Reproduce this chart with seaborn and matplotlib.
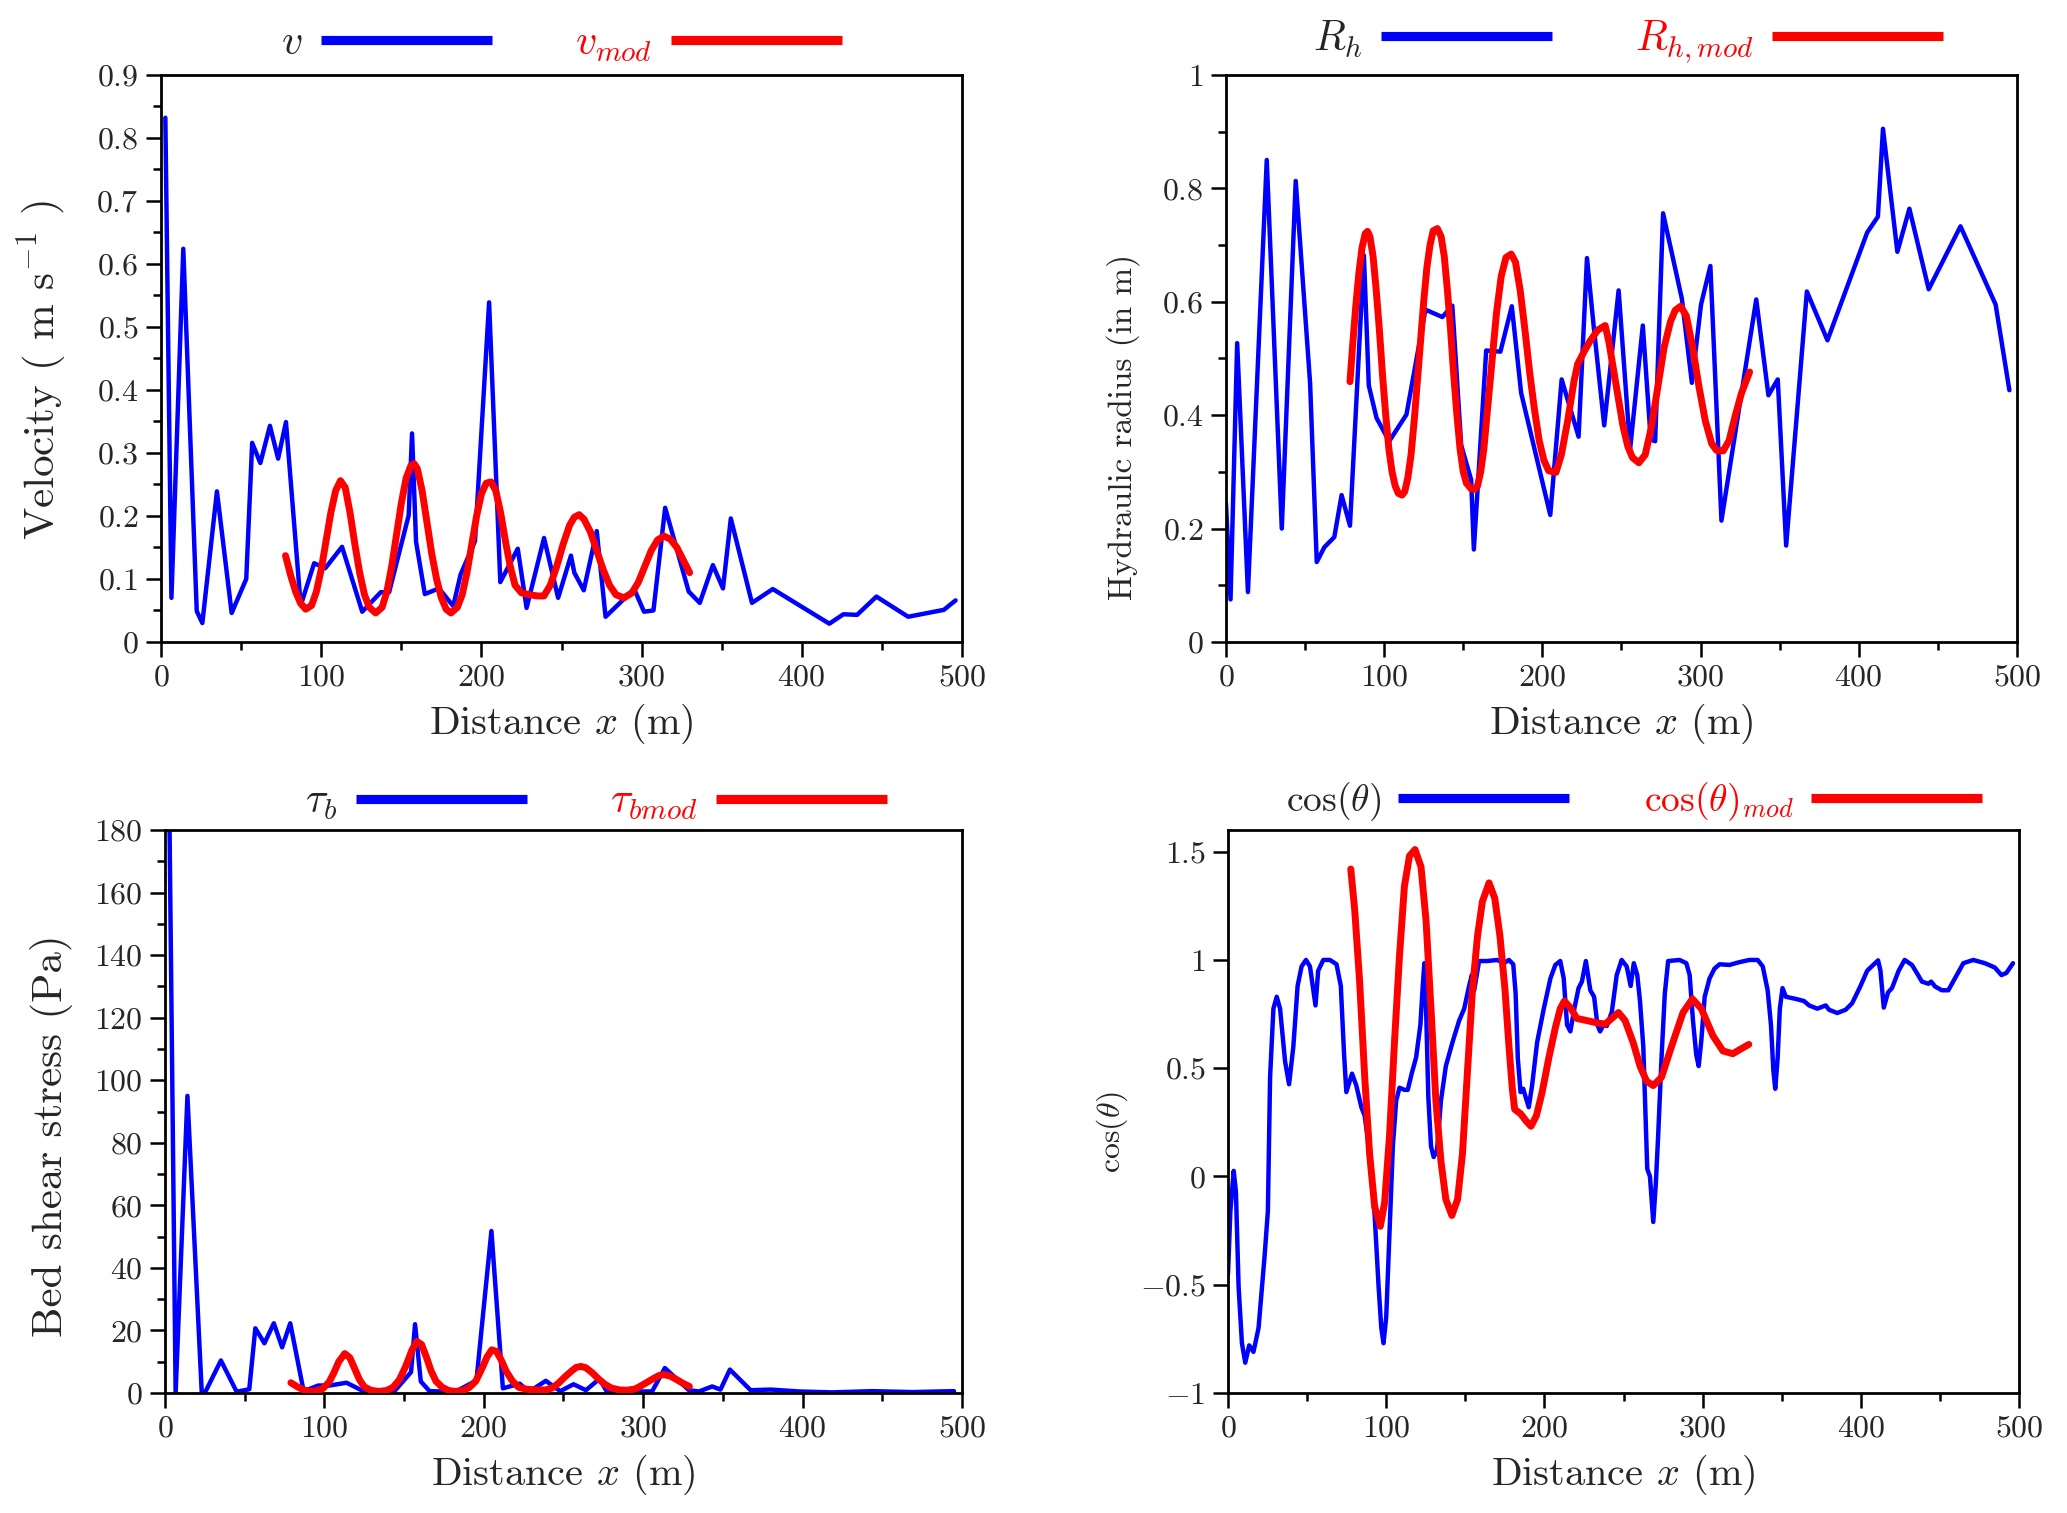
import numpy as np
import pandas as pd
import matplotlib
matplotlib.use("Agg")
import matplotlib.pyplot as plt
import matplotlib.ticker as mticker
from matplotlib.lines import Line2D
import seaborn as sns

# ---- panel (a): velocity ----
v_x = [2.7, 6.5, 13.9, 22.3, 25.8, 34.9, 44.1, 53.2, 56.9, 62, 68, 73.1, 78, 87.2, 95.6, 102.5,
       113, 125.6, 137.2, 142.4, 154.6, 156.7, 159.2, 164.7, 173.5, 182.4, 187, 196, 204.8, 211.8,
       222.7, 228.2, 239.1, 247.9, 255.9, 258, 263.9, 272, 277.5, 295.4, 301.5, 307.4, 314.7, 329.4,
       336.3, 344.5, 350.8, 355.7, 368.9, 381.9, 417.2, 426, 434.5, 446.6, 466.4, 488.7, 496]
v_y = [0.832, 0.07, 0.624, 0.049, 0.030, 0.239, 0.046, 0.10, 0.316, 0.284, 0.343, 0.291, 0.349,
       0.058, 0.125, 0.117, 0.151, 0.048, 0.079, 0.079, 0.201, 0.331, 0.159, 0.076, 0.085, 0.057,
       0.107, 0.160, 0.539, 0.095, 0.148, 0.054, 0.165, 0.070, 0.137, 0.110, 0.082, 0.176, 0.040,
       0.084, 0.048, 0.050, 0.213, 0.080, 0.062, 0.122, 0.085, 0.196, 0.062, 0.084, 0.029, 0.044,
       0.043, 0.072, 0.040, 0.051, 0.066]

vmod_x = [77.7, 81, 84, 87, 90.3, 94, 97, 100, 103, 106, 109, 112, 115, 118, 121, 124, 127, 130,
          134, 138, 141, 144, 147, 150, 153, 156, 158, 160, 163, 166, 169, 172, 175, 178, 181, 185,
          188, 191, 194, 197, 200, 203, 206, 209, 212, 215, 218, 221, 225, 230, 235, 239, 243, 247,
          251, 255, 258, 261, 264, 268, 272, 276, 280, 284, 289, 294, 298, 302, 306, 310, 314, 318,
          322, 326, 330]
vmod_y = [0.137, 0.105, 0.08, 0.062, 0.052, 0.058, 0.08, 0.115, 0.16, 0.205, 0.24, 0.256, 0.245,
          0.205, 0.155, 0.11, 0.075, 0.055, 0.046, 0.055, 0.08, 0.12, 0.17, 0.22, 0.26, 0.28, 0.283,
          0.275, 0.24, 0.19, 0.14, 0.10, 0.07, 0.052, 0.046, 0.055, 0.075, 0.11, 0.155, 0.20, 0.235,
          0.252, 0.254, 0.24, 0.205, 0.16, 0.12, 0.09, 0.078, 0.075, 0.073, 0.073, 0.09, 0.12, 0.155,
          0.185, 0.198, 0.202, 0.195, 0.175, 0.145, 0.115, 0.09, 0.075, 0.07, 0.078, 0.095, 0.12,
          0.145, 0.162, 0.168, 0.163, 0.15, 0.13, 0.11]

# ---- panel (b): hydraulic radius ----
rh_x = [0, 2.9, 7.1, 13.9, 25.8, 35.3, 44.1, 53.2, 57.4, 62.2, 68.5, 73.1, 78.4, 87.2, 90.3, 95.2,
        103.2, 114.1, 126.1, 136.8, 143.1, 148.7, 155, 156.7, 164.5, 173.5, 180.7, 186.6, 205,
        212.2, 222.9, 228.2, 232.4, 239.1, 248.2, 255.5, 263.5, 268.5, 271.3, 276.3, 288.2, 294.5,
        300.3, 306.2, 313.2, 335.2, 342.9, 348.8, 354.1, 367.2, 380.2, 405.3, 412.1, 415.3, 424.4,
        432, 444.2, 464.3, 486.5, 495.2]
rh_y = [0.245, 0.075, 0.527, 0.088, 0.850, 0.20, 0.813, 0.456, 0.141, 0.167, 0.185, 0.259, 0.205,
        0.682, 0.452, 0.395, 0.354, 0.401, 0.586, 0.573, 0.593, 0.347, 0.286, 0.163, 0.514, 0.512,
        0.592, 0.439, 0.224, 0.463, 0.362, 0.677, 0.558, 0.382, 0.620, 0.341, 0.558, 0.357, 0.354,
        0.756, 0.605, 0.457, 0.595, 0.663, 0.214, 0.604, 0.435, 0.463, 0.170, 0.618, 0.532, 0.722,
        0.750, 0.905, 0.688, 0.764, 0.622, 0.733, 0.595, 0.444]

rhmod_x = [78.4, 80, 82, 84, 86, 88, 89.5, 91, 93, 95, 97, 99, 101, 103, 105, 107, 109, 111.3, 113,
           115, 117, 119, 121, 123, 125, 127, 129, 131, 133.6, 136, 138, 140, 142, 144, 146, 148,
           150, 152, 155, 157, 159, 161, 163, 165, 167, 169, 171, 174, 177, 180.3, 183, 186, 189,
           192, 195, 198, 201, 204, 208.6, 212, 216, 220, 222.3, 226, 230, 235, 239.7, 242, 245,
           248, 251, 254, 257, 261, 265, 269, 273, 277, 281, 284, 287.4, 291, 295, 299, 303, 307,
           310, 314.3, 318, 322, 326, 331]
rhmod_y = [0.459, 0.52, 0.59, 0.65, 0.695, 0.72, 0.724, 0.715, 0.68, 0.62, 0.55, 0.47, 0.40, 0.34,
           0.30, 0.275, 0.262, 0.259, 0.265, 0.29, 0.33, 0.39, 0.46, 0.53, 0.60, 0.66, 0.70, 0.725,
           0.729, 0.715, 0.68, 0.62, 0.55, 0.47, 0.40, 0.34, 0.30, 0.28, 0.27, 0.269, 0.275, 0.30,
           0.34, 0.40, 0.46, 0.52, 0.58, 0.645, 0.678, 0.684, 0.67, 0.62, 0.55, 0.475, 0.41, 0.355,
           0.32, 0.302, 0.299, 0.33, 0.39, 0.46, 0.49, 0.51, 0.53, 0.55, 0.558, 0.53, 0.48, 0.43,
           0.38, 0.345, 0.325, 0.316, 0.33, 0.38, 0.45, 0.52, 0.565, 0.585, 0.592, 0.575, 0.52, 0.45,
           0.39, 0.35, 0.338, 0.337, 0.355, 0.40, 0.44, 0.476]

# ---- panel (c): bed shear stress ----
tau_x = [2.9, 6.7, 14.1, 23.1, 25, 35.1, 45, 52.9, 56.7, 62.4, 68.3, 73.5, 78.6, 87, 96.2, 103.4,
         113.9, 124.4, 144.5, 154.4, 156.9, 160.5, 166, 182.1, 195.4, 204.8, 212, 222.5, 228.4,
         238.9, 248, 256.3, 264.1, 272.5, 277.3, 299.4, 305.6, 313.6, 328.7, 335, 343.3, 348.5,
         354.4, 367.4, 380, 397.7, 418.6, 443.7, 468.8, 495]
tau_y = [180, 0, 95, 0, 0, 10.4, 0.4, 1.2, 20.7, 15.9, 22.3, 14.6, 22.3, 0.6, 2.4, 2.4, 3.3, 0.6,
         0.9, 6.7, 22, 3.7, 0.6, 0.4, 4, 51.8, 1.5, 3, 0.4, 3.9, 0.6, 2.8, 0.9, 4.5, 0.4, 0.5, 0.5,
         8.0, 0.9, 0.5, 2.1, 1.1, 7.5, 0.9, 1.1, 0.5, 0.2, 0.6, 0.3, 0.6]

taumod_x = [79, 83, 87, 91, 95, 99, 103, 106, 109, 112.8, 116, 119, 122, 125, 129, 134, 139, 143,
            147, 151, 155, 158, 161, 164, 167, 170, 174, 178, 182, 187, 191, 195, 199, 202, 205,
            208, 211, 214, 218, 222, 227, 233, 239, 243, 247, 251, 255, 258, 261, 264, 268, 272,
            276, 280, 285, 290, 295, 299, 303, 307, 310, 313, 317, 321, 325, 329]
taumod_y = [3.3, 2.0, 1.0, 0.5, 0.7, 1.4, 3.5, 6.5, 10, 12.6, 11.3, 7.8, 4.3, 2.0, 0.9, 0.5, 0.8,
            1.8, 4.2, 8.5, 13.8, 16.5, 15.5, 11.5, 7.0, 3.8, 1.8, 0.8, 0.5, 0.8, 1.8, 3.8, 8.0, 11.5,
            13.8, 13.3, 10.5, 7.0, 3.8, 1.8, 1.2, 1.0, 1.0, 1.6, 3.2, 5.2, 7.0, 8.2, 8.5, 8.1, 6.5,
            4.5, 2.8, 1.6, 1.0, 0.9, 1.3, 2.4, 3.6, 4.8, 5.6, 5.9, 5.4, 4.3, 3.1, 2.1]

# ---- panel (d): cos(theta) ----
cos_x = [0, 1.5, 3.6, 5, 6.7, 8.8, 10.9, 13.4, 16.1, 19.3, 23.1, 25.2, 26.6, 28.7, 30.8, 32.9, 36.1,
         38.6, 41.3, 44, 46.5, 49.3, 51.8, 53.9, 55.3, 57, 60.2, 64.4, 68.6, 71.3, 73.4, 74.8, 78.4,
         81.1, 84.3, 86.4, 89.5, 92.7, 95.2, 96.9, 98.3, 100, 102.1, 104.2, 106.3, 108.4, 111.5,
         113.6, 116.1, 118.9, 121.6, 123.1, 124.1, 125.2, 126.6, 128.3, 130, 132.1, 134.6, 137.7,
         141.9, 146.1, 149.3, 152.4, 154.1, 155.6, 158.7, 164, 170.2, 174.4, 177.6, 180.3, 181.8,
         183.2, 184.9, 186.6, 188, 190.1, 192.2, 195.4, 199.6, 203.8, 206.9, 210, 212.2, 214.3,
         216.4, 218.9, 221.6, 223.7, 226.2, 229, 231.4, 233.5, 235.2, 237.3, 239.4, 242.6, 245.7,
         248.8, 252, 254.5, 256.5, 258.7, 260.4, 262.5, 265, 266.7, 268.8, 270.4, 271.9, 274,
         276.1, 278.2, 285.5, 289.7, 291.8, 293.9, 296, 297.5, 299.2, 301.3, 304.4, 307.5, 310.7,
         317, 323.3, 329.6, 334.8, 338, 341.1, 343.2, 344.7, 345.9, 347.4, 348.8, 350.5, 352.6,
         358.9, 364.1, 367.3, 372.5, 377.8, 379.9, 385.1, 390.4, 394.5, 399.8, 404, 406.1, 410.9,
         412.4, 414.5, 417.2, 419.7, 423.9, 427.7, 432.3, 435.4, 438.6, 442.8, 444.4, 447, 451.2,
         455.3, 459.5, 464.8, 471.1, 478.4, 484.7, 488.9, 492, 496.2]
cos_y = [-0.45, -0.16, 0.026, -0.07, -0.51, -0.77, -0.86, -0.78, -0.81, -0.70, -0.37, -0.16, 0.46,
         0.775, 0.83, 0.775, 0.53, 0.426, 0.60, 0.88, 0.97, 1.0, 0.97, 0.86, 0.79, 0.95, 1.0, 1.0,
         0.98, 0.88, 0.56, 0.39, 0.475, 0.42, 0.32, 0.28, 0.11, -0.18, -0.51, -0.70, -0.77, -0.65,
         -0.25, 0.14, 0.35, 0.41, 0.40, 0.40, 0.475, 0.55, 0.70, 0.88, 0.985, 0.775, 0.37, 0.14,
         0.09, 0.12, 0.35, 0.51, 0.62, 0.72, 0.775, 0.88, 0.93, 0.86, 0.995, 0.995, 1.0, 0.985, 1.0,
         0.98, 0.845, 0.545, 0.39, 0.405, 0.37, 0.32, 0.42, 0.62, 0.775, 0.915, 0.977, 0.995, 0.915,
         0.70, 0.67, 0.775, 0.87, 0.90, 0.995, 0.86, 0.83, 0.70, 0.67, 0.70, 0.695, 0.76, 0.93, 1.0,
         0.97, 0.88, 0.985, 0.93, 0.81, 0.60, 0.035, 0.0, -0.21, -0.035, 0.19, 0.545, 0.845, 0.995,
         1.0, 0.985, 0.93, 0.72, 0.56, 0.51, 0.63, 0.83, 0.915, 0.96, 0.98, 0.977, 0.99, 1.0, 1.0,
         0.97, 0.86, 0.70, 0.49, 0.405, 0.545, 0.775, 0.87, 0.83, 0.82, 0.81, 0.79, 0.775, 0.79,
         0.77, 0.755, 0.77, 0.80, 0.88, 0.95, 0.965, 0.998, 0.95, 0.78, 0.85, 0.87, 0.95, 1.0,
         0.977, 0.94, 0.90, 0.89, 0.90, 0.877, 0.86, 0.86, 0.915, 0.985, 1.0, 0.985, 0.965, 0.93,
         0.94, 0.985]

cosmod_x = [77.6, 80.1, 83.2, 86.4, 89.5, 92.7, 96.3, 99, 102.1, 105.3, 108.4, 111.5, 114.7, 118.2,
            122, 125.2, 128.3, 131.4, 134.6, 137.7, 141.5, 145.1, 148.2, 151.4, 154.5, 157.7, 160.8,
            165, 168.6, 171.9, 175.1, 177.6, 179.7, 181.2, 184.9, 188.6, 191.5, 194.9, 198.5, 202.7,
            206.9, 210, 212.6, 216.4, 220.5, 226.8, 234.2, 238.4, 242.6, 246.8, 251, 256.2, 260.4,
            264.6, 268.8, 274, 280.3, 287.6, 293.5, 299.2, 306.5, 312.8, 319.1, 324.4, 329.2]
cosmod_y = [1.42, 1.23, 0.90, 0.46, 0.105, -0.14, -0.23, -0.12, 0.19, 0.63, 1.02, 1.34, 1.48, 1.51,
            1.43, 1.18, 0.775, 0.35, 0.07, -0.106, -0.18, -0.106, 0.105, 0.49, 0.86, 1.11, 1.27,
            1.356, 1.285, 1.11, 0.86, 0.60, 0.405, 0.31, 0.29, 0.255, 0.232, 0.28, 0.387, 0.545,
            0.687, 0.775, 0.81, 0.78, 0.73, 0.72, 0.708, 0.704, 0.73, 0.757, 0.72, 0.616, 0.51, 0.44,
            0.42, 0.458, 0.60, 0.757, 0.82, 0.775, 0.65, 0.58, 0.567, 0.59, 0.61]

sns.set_theme(style="ticks")
plt.rcParams["font.family"] = ["cmr10", "DejaVu Serif"]
plt.rcParams["mathtext.fontset"] = "cm"
plt.rcParams["axes.unicode_minus"] = False

fig = plt.figure(figsize=(20.67, 15.13), dpi=100)

panels = [
    # rect, blue, red, ylim, label step, minor step,
    # ylabel, ylabel size, ylabel pad, ylabel y, legend labels, legend pos, legend size
    ([0.0779, 0.5757, 0.3875, 0.3748], v_x, v_y, vmod_x, vmod_y, (0, 0.9), 0.1, 0.05,
     r"Velocity ( m s$^{-1}$ )", 31, 20, 0.48, [r"$v$", r"$v_{mod}$"], (0.50, 1.054), 30),
    ([0.5931, 0.5757, 0.3827, 0.3748], rh_x, rh_y, rhmod_x, rhmod_y, (0, 1.0), 0.2, 0.1,
     "Hydraulic radius (in m)", 24, 16, 0.38, [r"$R_h$", r"$R_{h,mod}$"], (0.508, 1.058), 30),
    ([0.0798, 0.0793, 0.3856, 0.3721], tau_x, tau_y, taumod_x, taumod_y, (0, 180), 20, 10,
     "Bed shear stress (Pa)", 31, 15, 0.457, [r"$\tau_b$", r"$\tau_{b mod}$"], (0.541, 1.048), 30),
    ([0.5941, 0.0793, 0.3827, 0.3721], cos_x, cos_y, cosmod_x, cosmod_y, (-1, 1.6), 0.5, None,
     r"cos($\theta$)", 23, 7, 0.464, [r"cos($\theta$)", r"cos($\theta$)$_{mod}$"], (0.513, 1.05), 27),
]

for (rect, bx, by, rx, ry, ylim, ystep, yminor, ylabel, ylsize, ylpad, ylpos,
     leg_labels, legpos, legsize) in panels:
    ax = fig.add_axes(rect)
    blue = pd.DataFrame({"x": bx, "y": by})
    red = pd.DataFrame({"x": rx, "y": ry})
    sns.lineplot(data=blue, x="x", y="y", ax=ax, color="#0000ff", lw=3.2,
                 estimator=None, sort=False, zorder=2)
    sns.lineplot(data=red, x="x", y="y", ax=ax, color="#ff0000", lw=5.0,
                 estimator=None, sort=False, zorder=3)
    ax.set_xlim(0, 500)
    ax.set_ylim(*ylim)
    ax.xaxis.set_major_locator(mticker.MultipleLocator(100))
    ax.xaxis.set_minor_locator(mticker.MultipleLocator(50))
    ax.yaxis.set_major_locator(mticker.MultipleLocator(ystep))
    if yminor:
        ax.yaxis.set_minor_locator(mticker.MultipleLocator(yminor))
    fmt = mticker.FuncFormatter(lambda v, p: f"${v:g}$")
    ax.xaxis.set_major_formatter(fmt)
    ax.yaxis.set_major_formatter(fmt)
    ax.tick_params(which="major", length=11, width=1.8, labelsize=23, pad=5, color="black")
    ax.tick_params(which="minor", length=6, width=1.8, color="black")
    for sp in ax.spines.values():
        sp.set_visible(True)
        sp.set_linewidth(2.0)
        sp.set_color("black")
    ax.set_xlabel(r"Distance $x$ (m)", fontsize=29, labelpad=7)
    ax.set_ylabel(ylabel, fontsize=ylsize, labelpad=ylpad)
    ax.yaxis.label.set_y(ylpos)
    ax.grid(False)

    handles = [Line2D([], [], color="#0000ff", lw=6.6, solid_capstyle="butt"),
               Line2D([], [], color="#ff0000", lw=6.6, solid_capstyle="butt")]
    leg = ax.legend(handles, leg_labels, loc="center", bbox_to_anchor=legpos,
                    ncol=2, frameon=False, markerfirst=False,
                    handlelength=4.1 * 30 / legsize, columnspacing=2.0,
                    handletextpad=0.45, fontsize=legsize, borderaxespad=0, borderpad=0)
    leg.get_texts()[1].set_color("#ff0000")

fig.savefig("out.png", dpi=100)
